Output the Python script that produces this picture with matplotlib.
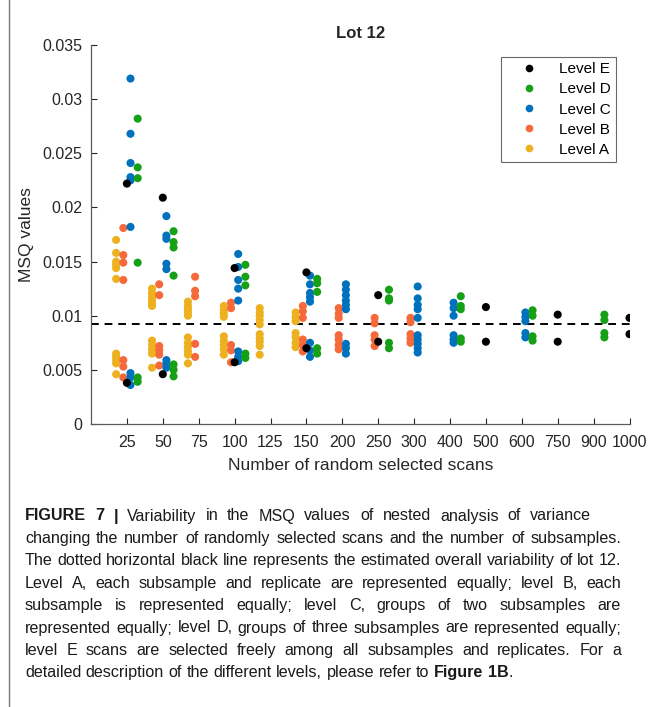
import numpy as np
import matplotlib
matplotlib.use('Agg')
import matplotlib.pyplot as plt
from matplotlib.lines import Line2D

plt.rcParams['font.family'] = ['Liberation Sans', 'DejaVu Sans']

# number of randomly selected scans (categorical x axis)
scans = ['25', '50', '75', '100', '125', '150', '200', '250', '300',
         '400', '500', '600', '750', '900', '1000']

# MSQ values for each level, one list per scan count
level_a = [
    [0.0170, 0.0158, 0.0150, 0.0147, 0.0144, 0.0134, 0.0065, 0.0062, 0.0059, 0.0056, 0.0046],
    [0.0125, 0.0121, 0.0118, 0.0115, 0.0112, 0.0109, 0.0077, 0.0073, 0.0069, 0.0065, 0.0052],
    [0.0113, 0.0109, 0.0106, 0.0103, 0.0100, 0.0080, 0.0075, 0.0071, 0.0067, 0.0064, 0.0056],
    [0.0109, 0.0105, 0.0102, 0.0099, 0.0081, 0.0077, 0.0073, 0.0069, 0.0064],
    [0.0107, 0.0103, 0.0100, 0.0096, 0.0092, 0.0083, 0.0079, 0.0076, 0.0072, 0.0064],
    [0.0103, 0.0099, 0.0095, 0.0084, 0.0080, 0.0075, 0.0071],
    [], [], [], [], [], [], [], [], [],
]
level_b = [
    [0.0181, 0.0156, 0.0149, 0.0133, 0.0059, 0.0053, 0.0043],
    [0.0129, 0.0119, 0.0072, 0.0068, 0.0064, 0.0054],
    [0.0136, 0.0123, 0.0118, 0.0074, 0.0062],
    [0.0112, 0.0107, 0.0073, 0.0068, 0.0057],
    [],
    [0.0109, 0.0104, 0.0098, 0.0078, 0.0073, 0.0067],
    [0.0107, 0.0102, 0.0098, 0.0082, 0.0078, 0.0073, 0.0069],
    [0.0098, 0.0093, 0.0082, 0.0078, 0.0072],
    [0.0098, 0.0094, 0.0083, 0.0079, 0.0075],
    [], [], [], [], [], [],
]
level_c = [
    [0.0319, 0.0268, 0.0241, 0.0228, 0.0225, 0.0182, 0.0047, 0.0043, 0.0036],
    [0.0192, 0.0174, 0.0171, 0.0148, 0.0143, 0.0059, 0.0056, 0.0052],
    [],
    [0.0157, 0.0145, 0.0133, 0.0125, 0.0114, 0.0067, 0.0062, 0.0058],
    [],
    [0.0137, 0.0129, 0.0121, 0.0117, 0.0113, 0.0075, 0.0068, 0.0062],
    [0.0129, 0.0124, 0.0119, 0.0114, 0.0110, 0.0106, 0.0074, 0.0070, 0.0065],
    [],
    [0.0127, 0.0116, 0.0110, 0.0106, 0.0098, 0.0082, 0.0078, 0.0074, 0.0070, 0.0066],
    [0.0112, 0.0107, 0.0100, 0.0082, 0.0078, 0.0075],
    [],
    [0.0103, 0.0099, 0.0095, 0.0084, 0.0080],
    [], [], [],
]
level_d = [
    [0.0282, 0.0237, 0.0227, 0.0149, 0.0043, 0.0039],
    [0.0178, 0.0168, 0.0163, 0.0137, 0.0055, 0.0050, 0.0044],
    [],
    [0.0147, 0.0136, 0.0128, 0.0065, 0.0061],
    [],
    [0.0134, 0.0130, 0.0122, 0.0070, 0.0065],
    [],
    [0.0124, 0.0116, 0.0114, 0.0075, 0.0070],
    [],
    [0.0118, 0.0109, 0.0106, 0.0079, 0.0076],
    [],
    [0.0105, 0.0100, 0.0081, 0.0077],
    [],
    [0.0101, 0.0096, 0.0084, 0.0080],
    [],
]
level_e = [
    [0.0222, 0.0038], [0.0209, 0.0046], [], [0.0144, 0.0057], [],
    [0.0140, 0.0070], [], [0.0119, 0.0076], [], [], [0.0108, 0.0076],
    [], [0.0101, 0.0076], [], [0.0098, 0.0083],
]
overall_msq = 0.0092

levels = [
    ('Level A', level_a, '#EDB120', -0.3),
    ('Level B', level_b, '#F5693A', -0.1),
    ('Level C', level_c, '#0072BD', 0.1),
    ('Level D', level_d, '#16A016', 0.3),
    ('Level E', level_e, 'black', 0.0),
]

# caption lines: words wrapped in ** are bold; second item is the right edge (px) or None
caption = [
    ("**FIGURE** **7** **|** Variability in the MSQ values of nested analysis of variance", 591),
    ("changing the number of randomly selected scans and the number of subsamples.", 621),
    ("The dotted horizontal black line represents the estimated overall variability of lot 12.", 621),
    ("Level A, each subsample and replicate are represented equally; level B, each", 621),
    ("subsample is represented equally; level C, groups of two subsamples are", 621),
    ("represented equally; level D, groups of three subsamples are represented equally;", 621),
    ("level E scans are selected freely among all subsamples and replicates. For a", 621),
    ("detailed description of the different levels, please refer to **Figure** **1B**.", None),
]

W, H = 654, 707
fig = plt.figure(figsize=(W / 100, H / 100), dpi=100)
ax = fig.add_axes([91 / W, 1 - 424 / H, (629.5 - 91) / W, (424 - 45) / H])

xpos = np.arange(1, len(scans) + 1)
handles = {}
for name, vals, col, off in levels:
    for i, v in enumerate(vals):
        if len(v) == 0:
            continue
        ax.scatter(np.full(len(v), xpos[i] + off), v, s=34, color=col,
                   edgecolors='none', zorder=4 if name == 'Level E' else 3)
    handles[name] = Line2D([], [], marker='o', linestyle='none', color=col,
                           markersize=5.5, markeredgewidth=0)

ax.axhline(overall_msq, color='black', linestyle=(0, (4, 3)), linewidth=1.4, zorder=2)

ax.set_xlim(0, 15)
ax.set_ylim(0, 0.035)
ax.set_xticks(xpos)
ax.set_xticklabels(scans)
yt = np.arange(0, 0.0351, 0.005)
ax.set_yticks(yt)
ax.set_yticklabels(['0', '0.005', '0.01', '0.015', '0.02', '0.025', '0.03', '0.035'])
ax.tick_params(direction='in', length=4, width=0.8, colors='#262626', labelsize=11.5)
ax.tick_params(axis='x', pad=8)
ax.tick_params(axis='y', pad=6)
for side in ['top', 'right']:
    ax.spines[side].set_visible(False)
for side in ['left', 'bottom']:
    ax.spines[side].set_color('#5a5a5a')
    ax.spines[side].set_linewidth(0.9)

ax.set_xlabel('Number of random selected scans', fontsize=12.5, color='#262626', labelpad=6)
ax.set_ylabel('MSQ values', fontsize=12.5, color='#262626', labelpad=6)
ax.set_title('Lot 12', fontsize=12, fontweight='bold', color='#262626', pad=5)

order = ['Level E', 'Level D', 'Level C', 'Level B', 'Level A']
leg = ax.legend([handles[n] for n in order], order, loc='upper right',
                bbox_to_anchor=((616 - 91) / (629.5 - 91), (424 - 57) / (424 - 45)),
                borderaxespad=0, fontsize=11, frameon=True,
                fancybox=False, edgecolor='#444444', handletextpad=0.45,
                borderpad=0.35, labelspacing=0.4, handlelength=3.0)
leg.get_frame().set_linewidth(0.8)

# caption below the chart, justified word by word
fig.add_artist(Line2D([9 / W, 9 / W], [0, 1], color='#777777', linewidth=1.0))
renderer = fig.canvas.get_renderer()
fs = 11.6
y0 = 1 - 516 / H
dy = 22.4 / H
sp = fig.text(0, 0, 'a a', fontsize=fs)
sp2 = fig.text(0, 0, 'aa', fontsize=fs)
space = sp.get_window_extent(renderer).width - sp2.get_window_extent(renderer).width
sp.remove()
sp2.remove()

for k, (line, right) in enumerate(caption):
    y = y0 - k * dy
    words = line.split(' ')
    pieces = []   # text objects making up each word
    for w in words:
        parts = []
        if w.startswith('**'):
            head, _, tail = w[2:].partition('**')
            parts.append((head, 'bold'))
            if tail:
                parts.append((tail, 'normal'))
        else:
            parts.append((w, 'normal'))
        objs = [fig.text(0, y, s, fontsize=fs, va='center', color='#1a1a1a', fontweight=fw)
                for s, fw in parts]
        pieces.append(objs)
    widths = [[t.get_window_extent(renderer).width for t in objs] for objs in pieces]
    total = sum(sum(w) for w in widths)
    if right is not None and len(pieces) > 1:
        gap = max(space * 0.8, (right - 25 - total) / (len(pieces) - 1))
    else:
        gap = space
    x = 25.0
    for objs, ws in zip(pieces, widths):
        for t, w in zip(objs, ws):
            t.set_x(x / W)
            x += w
        x += gap

fig.savefig('out.png', dpi=100)
